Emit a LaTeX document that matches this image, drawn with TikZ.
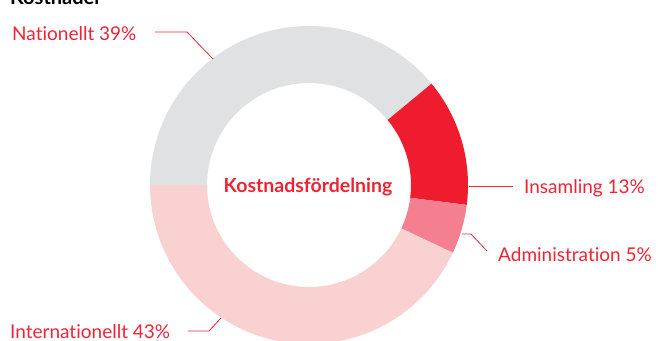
\documentclass[tikz,border=0pt]{standalone}
\usepackage{fontspec}
\setmainfont{Lato}[Ligatures=NoCommon]
\definecolor{segGray}{HTML}{E0E1E3}
\definecolor{segRed}{HTML}{EE1C2E}
\definecolor{segPink}{HTML}{F47F91}
\definecolor{segLight}{HTML}{F9D1D1}
\definecolor{txtRed}{HTML}{EE2436}
\tikzset{
  lbl/.style={text=txtRed, font=\fontsize{19}{23}\selectfont, inner sep=0pt},
  leader/.style={draw=txtRed, line width=0.8pt},
}
\begin{document}
\begin{tikzpicture}[x=1pt,y=-1pt]
\useasboundingbox (0,0) rectangle (658,340);
% title (cut off)
\node[anchor=base west, inner sep=0pt, font=\fontsize{20}{24}\selectfont\bfseries] (title) at (10,5) {Kostnader};
% donut
\begin{scope}[shift={(309,185)}]
  \fill[segGray] (180:159pt) arc[start angle=180, end angle=39.6, radius=159pt] -- (39.6:102pt) arc[start angle=39.6, end angle=180, radius=102pt] -- cycle;
  \fill[segRed] (39.6:159pt) arc[start angle=39.6, end angle=-7.2, radius=159pt] -- (-7.2:102pt) arc[start angle=-7.2, end angle=39.6, radius=102pt] -- cycle;
  \fill[segPink] (-7.2:159pt) arc[start angle=-7.2, end angle=-25.2, radius=159pt] -- (-25.2:102pt) arc[start angle=-25.2, end angle=-7.2, radius=102pt] -- cycle;
  \fill[segLight] (-25.2:159pt) arc[start angle=-25.2, end angle=-180, radius=159pt] -- (-180:102pt) arc[start angle=-180, end angle=-25.2, radius=102pt] -- cycle;
\end{scope}
% center label
\node[anchor=base, inner sep=0pt, text=txtRed, font=\fontsize{19.5}{23}\selectfont\bfseries] (center) at (308,192) {Kostnadsfördelning};
% labels
\node[lbl, anchor=base west] (nat) at (12,40) {Nationellt 39\%};
\node[lbl, anchor=base west] (ins) at (524,193) {Insamling 13\%};
\node[lbl, anchor=base west] (adm) at (498,261) {Administration 5\%};
\node[lbl, anchor=base west] (int) at (10,338) {Internationellt 43\%};
% leader coordinates
\coordinate (natA) at (213,59);
\coordinate (natB) at (187,32);
\coordinate (natC) at (155,32);
\coordinate (insA) at (469,186);
\coordinate (insB) at (513,186);
\coordinate (admA) at (462,234);
\coordinate (admB) at (471,234);
\coordinate (admC) at (487,251);
\coordinate (intA) at (221,318);
\coordinate (intB) at (209,331);
\coordinate (intC) at (188,331);
\draw[leader] (natA) -- (natB) -- (natC);
\draw[leader] (insA) -- (insB);
\draw[leader] (admA) -- (admB) -- (admC);
\draw[leader] (intA) -- (intB) -- (intC);
\end{tikzpicture}
\end{document}
